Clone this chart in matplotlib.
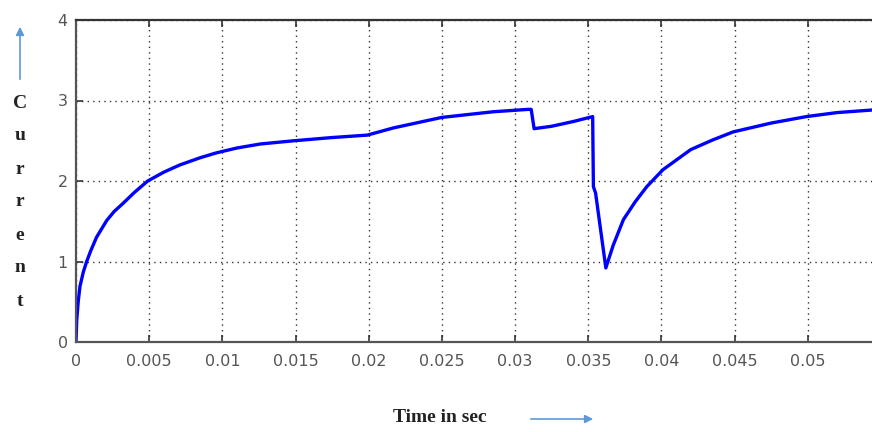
import matplotlib
matplotlib.use("Agg")
import matplotlib.pyplot as plt
from matplotlib.patches import FancyArrowPatch

# Data
time_s = [0, 0.00005, 0.00015, 0.00027, 0.0005, 0.00073, 0.001, 0.0014, 0.0021, 0.0026,
          0.0032, 0.004, 0.0049, 0.006, 0.0071, 0.0085, 0.0096, 0.011, 0.0126, 0.0149,
          0.0175, 0.0199, 0.0217, 0.025, 0.0285, 0.0309, 0.0311, 0.0313, 0.0325, 0.034,
          0.0353, 0.03535, 0.0355, 0.0362, 0.0367, 0.0374, 0.0382, 0.039, 0.0401, 0.042,
          0.0435, 0.0449, 0.0475, 0.0499, 0.052, 0.055]
current = [0, 0.27, 0.50, 0.69, 0.87, 1.0, 1.13, 1.30, 1.51, 1.62,
           1.72, 1.86, 2.0, 2.11, 2.2, 2.29, 2.35, 2.41, 2.46, 2.50,
           2.54, 2.57, 2.66, 2.79, 2.86, 2.89, 2.89, 2.65, 2.68, 2.74,
           2.80, 1.93, 1.85, 0.92, 1.20, 1.52, 1.74, 1.93, 2.14, 2.39,
           2.51, 2.61, 2.72, 2.80, 2.85, 2.89]
x_ticks = [0, 0.005, 0.01, 0.015, 0.02, 0.025, 0.03, 0.035, 0.04, 0.045, 0.05]
x_tick_labels = ["0", "0.005", "0.01", "0.015", "0.02", "0.025", "0.03", "0.035",
                 "0.04", "0.045", "0.05"]
y_ticks = [0, 1, 2, 3, 4]
y_tick_labels = ["0", "1", "2", "3", "4"]

W, H = 872, 432
fig = plt.figure(figsize=(W / 100, H / 100), dpi=100)
left, right, top, bottom = 76, 881, 20, 342
ax = fig.add_axes([left / W, 1 - bottom / H, (right - left) / W, (bottom - top) / H])

ax.plot(time_s, current, color="#0000ff", lw=2.4, solid_joinstyle="round")
ax.set_xlim(0, 0.055)
ax.set_ylim(0, 4)
ax.set_xticks(x_ticks)
ax.set_xticklabels(x_tick_labels)
ax.set_yticks(y_ticks)
ax.set_yticklabels(y_tick_labels)

for lab in ax.get_xticklabels() + ax.get_yticklabels():
    lab.set_fontfamily(["DejaVu Sans"])
    lab.set_fontsize(11.5)
    lab.set_color("#555555")
ax.tick_params(direction="in", length=5, width=1.2, color="#333333",
               top=True, right=True)
ax.tick_params(axis="x", pad=9)
ax.tick_params(axis="y", pad=6)
ax.grid(True, color="black", linestyle=(0, (1, 3)), linewidth=1.0, alpha=0.8)
for side, sp in ax.spines.items():
    sp.set_linewidth(1.6)
    sp.set_color("#555555")
ax.spines["top"].set_color("#333333")

# Vertical stacked y label
letters = "Current"
serif = ["Liberation Serif", "DejaVu Serif"]
for i, ch in enumerate(letters):
    y = 103 + i * 33
    fig.text(20 / W, 1 - y / H, ch, ha="center", va="center",
             family=serif, weight="bold", size=14, color="#222222")
fig.add_artist(FancyArrowPatch((20 / W, 1 - 82 / H), (20 / W, 1 - 24 / H),
                               transform=fig.transFigure, arrowstyle="-|>",
                               mutation_scale=12, color="#5b9bd5", lw=1.2))

fig.text(440 / W, 1 - 418 / H, "Time in sec", ha="center", va="center",
         family=serif, weight="bold", size=14, color="#222222")
fig.add_artist(FancyArrowPatch((528 / W, 1 - 419 / H), (596 / W, 1 - 419 / H),
                               transform=fig.transFigure, arrowstyle="-|>",
                               mutation_scale=12, color="#5b9bd5", lw=1.2))

fig.savefig("out.png", dpi=100)
